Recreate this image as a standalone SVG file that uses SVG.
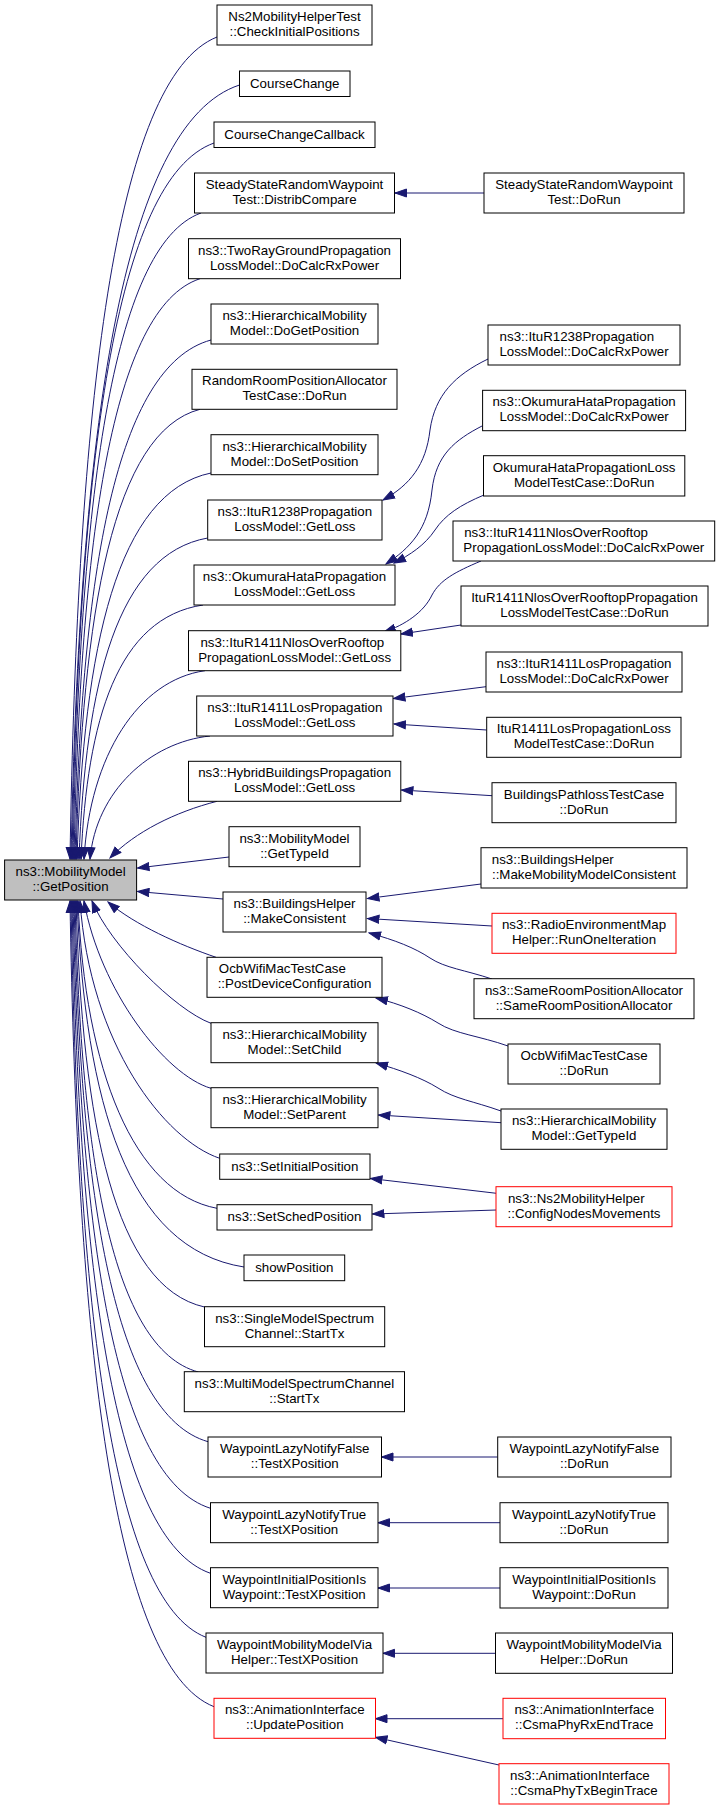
<svg xmlns="http://www.w3.org/2000/svg" width="717" height="1809" viewBox="0 0 717 1809">
<style>
.n rect{fill:#fff;stroke:#000;stroke-width:1}
.r rect{fill:#fff;stroke:#f00;stroke-width:1}
.m rect{fill:#bfbfbf;stroke:#000;stroke-width:1}
text{font-family:"Liberation Sans",Arial,sans-serif;font-size:13.3px;fill:#000;text-anchor:middle}
text.l{text-anchor:start}
#edges path{fill:none;stroke:#191970;stroke-width:1;marker-end:url(#a)}
</style>
<defs>
<marker id="a" markerUnits="userSpaceOnUse" markerWidth="13" markerHeight="10" refX="12" refY="5" orient="auto" viewBox="0 0 13 10">
<path d="M0.5,1 L12,5 L0.5,9 z" fill="#191970" stroke="#191970" stroke-width="1"/>
</marker>
</defs>
<rect width="717" height="1809" fill="#fff"/>
<g id="edges">
<path d="M217,37 C114.1,78.1 77.35,406.9 70,859"/>
<path d="M239.5,85 C121.55,123.7 79.4,433.3 71,859"/>
<path d="M214,143 C114.6,178.8 79.1,465.2 72,859"/>
<path d="M201,213 C111.4,245.3 79.4,503.7 73,859"/>
<path d="M200,278.7 C111.8,307.7 80.3,539.8 74,859"/>
<path d="M211,340 C115.8,366 81.8,573.5 75,859"/>
<path d="M200,409.3 C113.2,431.8 82.2,611.7 76,859"/>
<path d="M211,473 C117.2,492.3 83.7,646.7 77,859"/>
<path d="M207.7,538 C117.6,554 85.4,682.5 79,859"/>
<path d="M203,605 C117.6,617.7 87.1,719.3 81,859"/>
<path d="M205,670.7 C138.5,680.1 90,755.4 84,859"/>
<path d="M210,736 C150,742.2 96,791.4 90,859"/>
<path d="M217,801.3 C175,812 135,832 110,858"/>
<path d="M229,857 L137.5,868"/>
<path d="M223,899 L137.5,891.5"/>
<path d="M216,957.3 C180,945 135,925 108,902"/>
<path d="M211,1023.3 C175,1010 110,945 92,901"/>
<path d="M211,1088.3 C165,1075 100,990 84,901"/>
<path d="M219.7,1158.3 C165,1140 90,1045 80,901"/>
<path d="M217,1208.3 C133.6,1192.9 85,1070 78,901"/>
<path d="M244,1267 C127,1248.7 85.4,1102.3 77,901"/>
<path d="M204.5,1307 C114.5,1286.7 82.4,1124.3 76,901"/>
<path d="M198.3,1372 C112,1348.5 81.2,1160 75,901"/>
<path d="M208,1441.7 C114.2,1414.7 80.7,1198.4 74,901"/>
<path d="M210.5,1508.3 C114.25,1478 79.9,1235 73,901"/>
<path d="M210.5,1573.3 C113.55,1539.7 78.9,1270.8 72,901"/>
<path d="M206,1637.3 C111.5,1600.5 77.75,1306 71,901"/>
<path d="M214,1706.7 C113.2,1666.4 77.2,1344.1 70,901"/>
<path d="M484,193 L395,193"/>
<path d="M488,359 C455,375 435,395 430,430 C426,465 410,485 383,500"/>
<path d="M482,426 C455,440 436,455 432,490 C428,530 410,548 386,564"/>
<path d="M484,495 C460,505 445,515 435,530 C425,545 410,555 394,563"/>
<path d="M481,561 C455,572 440,580 432,595 C424,612 405,625 384,632"/>
<path d="M461,625 L401,634"/>
<path d="M486,686.7 L393.5,698.5"/>
<path d="M486.7,730 L394,724"/>
<path d="M492,795.7 L401.5,790"/>
<path d="M481,884 L367.5,898.5"/>
<path d="M492,926 L367.5,918.5"/>
<path d="M492,979 C465,970 445,968 430,958 C415,948 395,940 369,933"/>
<path d="M508,1046 C480,1036 455,1034 438,1023 C422,1013 400,1004 376,998"/>
<path d="M501,1111 C473,1101 455,1099 438,1088 C422,1078 400,1070 376,1063"/>
<path d="M501,1122.7 L378.5,1115"/>
<path d="M496.4,1193.3 L370.5,1178.5"/>
<path d="M496.4,1210 L372.5,1214"/>
<path d="M497.7,1457 L381.5,1457"/>
<path d="M500,1522.7 L378,1522.7"/>
<path d="M500,1588 L378,1588"/>
<path d="M495.5,1653.3 L383,1653.3"/>
<path d="M503,1718.7 L375.5,1718.7"/>
<path d="M499,1765 L375.5,1737.3"/>
</g>
<g id="main" class="m"><rect x="4.6" y="860" width="132" height="40"/><text x="70.6" y="876">ns3::MobilityModel</text><text x="70.6" y="891">::GetPosition</text></g>
<g id="n1" class="n"><rect x="217" y="5" width="155" height="40"/><text x="294.5" y="21">Ns2MobilityHelperTest</text><text x="294.5" y="36">::CheckInitialPositions</text></g>
<g id="n2" class="n"><rect x="239.5" y="71" width="110.5" height="25.5"/><text x="294.75" y="87.5">CourseChange</text></g>
<g id="n3" class="n"><rect x="214" y="122" width="161" height="25.5"/><text x="294.5" y="138.5">CourseChangeCallback</text></g>
<g id="n4" class="n"><rect x="194.5" y="173" width="200" height="40"/><text x="294.5" y="189">SteadyStateRandomWaypoint</text><text x="294.5" y="204">Test::DistribCompare</text></g>
<g id="n5" class="n"><rect x="188.5" y="238.7" width="212" height="40"/><text x="294.5" y="254.7">ns3::TwoRayGroundPropagation</text><text x="294.5" y="269.7">LossModel::DoCalcRxPower</text></g>
<g id="n6" class="n"><rect x="211" y="304" width="167" height="40"/><text x="294.5" y="320">ns3::HierarchicalMobility</text><text x="294.5" y="335">Model::DoGetPosition</text></g>
<g id="n7" class="n"><rect x="192" y="369.3" width="205" height="40"/><text x="294.5" y="385.3">RandomRoomPositionAllocator</text><text x="294.5" y="400.3">TestCase::DoRun</text></g>
<g id="n8" class="n"><rect x="211" y="434.7" width="167" height="40"/><text x="294.5" y="450.7">ns3::HierarchicalMobility</text><text x="294.5" y="465.7">Model::DoSetPosition</text></g>
<g id="n9" class="n"><rect x="207.7" y="500" width="174.3" height="40"/><text x="294.85" y="516">ns3::ItuR1238Propagation</text><text x="294.85" y="531">LossModel::GetLoss</text></g>
<g id="n10" class="n"><rect x="194" y="565" width="201" height="40"/><text x="294.5" y="581">ns3::OkumuraHataPropagation</text><text x="294.5" y="596">LossModel::GetLoss</text></g>
<g id="n11" class="n"><rect x="188.5" y="630.7" width="212.3" height="40"/><text class="l" x="200.4" y="646.7">ns3::ItuR1411NlosOverRooftop</text><text x="294.65" y="661.7">PropagationLossModel::GetLoss</text></g>
<g id="n12" class="n"><rect x="196.7" y="696" width="196.3" height="40"/><text x="294.85" y="712">ns3::ItuR1411LosPropagation</text><text x="294.85" y="727">LossModel::GetLoss</text></g>
<g id="n13" class="n"><rect x="188.5" y="761.3" width="212.3" height="40"/><text x="294.65" y="777.3">ns3::HybridBuildingsPropagation</text><text x="294.65" y="792.3">LossModel::GetLoss</text></g>
<g id="n14" class="n"><rect x="229" y="826.7" width="131" height="40"/><text x="294.5" y="842.7">ns3::MobilityModel</text><text x="294.5" y="857.7">::GetTypeId</text></g>
<g id="n15" class="n"><rect x="223" y="892" width="143" height="40"/><text x="294.5" y="908">ns3::BuildingsHelper</text><text x="294.5" y="923">::MakeConsistent</text></g>
<g id="n16" class="n"><rect x="207" y="957.3" width="175" height="40"/><text class="l" x="218.8" y="973.3">OcbWifiMacTestCase</text><text x="294.5" y="988.3">::PostDeviceConfiguration</text></g>
<g id="n17" class="n"><rect x="211" y="1022.7" width="167" height="40"/><text x="294.5" y="1038.7">ns3::HierarchicalMobility</text><text x="294.5" y="1053.7">Model::SetChild</text></g>
<g id="n18" class="n"><rect x="211" y="1087.7" width="167" height="40"/><text x="294.5" y="1103.7">ns3::HierarchicalMobility</text><text x="294.5" y="1118.7">Model::SetParent</text></g>
<g id="n19" class="n"><rect x="219.7" y="1154" width="150.3" height="25.3"/><text x="294.85" y="1170.5">ns3::SetInitialPosition</text></g>
<g id="n20" class="n"><rect x="217" y="1204.7" width="155" height="25.3"/><text x="294.5" y="1221.2">ns3::SetSchedPosition</text></g>
<g id="n21" class="n"><rect x="244" y="1255" width="100.7" height="25.7"/><text x="294.35" y="1271.5">showPosition</text></g>
<g id="n22" class="n"><rect x="204.5" y="1306.7" width="180.2" height="40"/><text x="294.6" y="1322.7">ns3::SingleModelSpectrum</text><text x="294.6" y="1337.7">Channel::StartTx</text></g>
<g id="n23" class="n"><rect x="184.3" y="1371.7" width="220.2" height="40"/><text x="294.4" y="1387.7">ns3::MultiModelSpectrumChannel</text><text x="294.4" y="1402.7">::StartTx</text></g>
<g id="n24" class="n"><rect x="208" y="1437" width="173.5" height="40"/><text x="294.75" y="1453">WaypointLazyNotifyFalse</text><text x="294.75" y="1468">::TestXPosition</text></g>
<g id="n25" class="n"><rect x="210.5" y="1502.7" width="167.5" height="40"/><text x="294.25" y="1518.7">WaypointLazyNotifyTrue</text><text x="294.25" y="1533.7">::TestXPosition</text></g>
<g id="n26" class="n"><rect x="210.5" y="1567.7" width="167.5" height="40"/><text x="294.25" y="1583.7">WaypointInitialPositionIs</text><text x="294.25" y="1598.7">Waypoint::TestXPosition</text></g>
<g id="n27" class="n"><rect x="206" y="1633" width="177" height="40"/><text x="294.5" y="1649">WaypointMobilityModelVia</text><text x="294.5" y="1664">Helper::TestXPosition</text></g>
<g id="n28" class="r"><rect x="214" y="1698.3" width="161.5" height="40"/><text x="294.75" y="1714.3">ns3::AnimationInterface</text><text x="294.75" y="1729.3">::UpdatePosition</text></g>
<g id="c1" class="n"><rect x="484" y="173" width="200" height="40"/><text x="584" y="189">SteadyStateRandomWaypoint</text><text x="584" y="204">Test::DoRun</text></g>
<g id="c2" class="n"><rect x="488" y="325" width="192" height="40"/><text class="l" x="499.6" y="341">ns3::ItuR1238Propagation</text><text x="584" y="356">LossModel::DoCalcRxPower</text></g>
<g id="c3" class="n"><rect x="482.6" y="390.3" width="203" height="40.4"/><text x="584.1" y="406.3">ns3::OkumuraHataPropagation</text><text x="584.1" y="421.3">LossModel::DoCalcRxPower</text></g>
<g id="c4" class="n"><rect x="483.5" y="455.7" width="201.3" height="40.3"/><text x="584.15" y="471.7">OkumuraHataPropagationLoss</text><text x="584.15" y="486.7">ModelTestCase::DoRun</text></g>
<g id="c5" class="n"><rect x="453" y="521" width="261.7" height="40"/><text class="l" x="464.2" y="537">ns3::ItuR1411NlosOverRooftop</text><text x="583.85" y="552">PropagationLossModel::DoCalcRxPower</text></g>
<g id="c6" class="n"><rect x="461" y="586" width="247" height="40"/><text x="584.5" y="602">ItuR1411NlosOverRooftopPropagation</text><text x="584.5" y="617">LossModelTestCase::DoRun</text></g>
<g id="c7" class="n"><rect x="486" y="652" width="196" height="40"/><text x="584" y="668">ns3::ItuR1411LosPropagation</text><text x="584" y="683">LossModel::DoCalcRxPower</text></g>
<g id="c8" class="n"><rect x="486.7" y="717.3" width="194.3" height="40"/><text x="583.85" y="733.3">ItuR1411LosPropagationLoss</text><text x="583.85" y="748.3">ModelTestCase::DoRun</text></g>
<g id="c9" class="n"><rect x="492" y="782.7" width="184" height="40"/><text x="584" y="798.7">BuildingsPathlossTestCase</text><text x="584" y="813.7">::DoRun</text></g>
<g id="c10" class="n"><rect x="481" y="847.7" width="206" height="40.3"/><text class="l" x="491.8" y="863.7">ns3::BuildingsHelper</text><text x="584" y="878.7">::MakeMobilityModelConsistent</text></g>
<g id="c11" class="r"><rect x="492" y="913.3" width="184" height="40"/><text x="584" y="929.3">ns3::RadioEnvironmentMap</text><text x="584" y="944.3">Helper::RunOneIteration</text></g>
<g id="c12" class="n"><rect x="474" y="978.7" width="220" height="40"/><text x="584" y="994.7">ns3::SameRoomPositionAllocator</text><text x="584" y="1009.7">::SameRoomPositionAllocator</text></g>
<g id="c13" class="n"><rect x="508" y="1044" width="152" height="40"/><text x="584" y="1060">OcbWifiMacTestCase</text><text x="584" y="1075">::DoRun</text></g>
<g id="c14" class="n"><rect x="501" y="1109" width="166" height="40.3"/><text x="584" y="1125">ns3::HierarchicalMobility</text><text x="584" y="1140">Model::GetTypeId</text></g>
<g id="c15" class="r"><rect x="496" y="1186.7" width="176" height="40"/><text class="l" x="507.9" y="1202.7">ns3::Ns2MobilityHelper</text><text x="584" y="1217.7">::ConfigNodesMovements</text></g>
<g id="c16" class="n"><rect x="497.7" y="1437" width="173.3" height="40"/><text x="584.35" y="1453">WaypointLazyNotifyFalse</text><text x="584.35" y="1468">::DoRun</text></g>
<g id="c17" class="n"><rect x="500" y="1502.7" width="168" height="40"/><text x="584" y="1518.7">WaypointLazyNotifyTrue</text><text x="584" y="1533.7">::DoRun</text></g>
<g id="c18" class="n"><rect x="500" y="1567.7" width="168" height="40.3"/><text x="584" y="1583.7">WaypointInitialPositionIs</text><text x="584" y="1598.7">Waypoint::DoRun</text></g>
<g id="c19" class="n"><rect x="495.5" y="1633" width="177" height="40.3"/><text x="584" y="1649">WaypointMobilityModelVia</text><text x="584" y="1664">Helper::DoRun</text></g>
<g id="c20" class="r"><rect x="503" y="1698.3" width="162.5" height="40.4"/><text x="584.25" y="1714.3">ns3::AnimationInterface</text><text x="584.25" y="1729.3">::CsmaPhyRxEndTrace</text></g>
<g id="c21" class="r"><rect x="499" y="1763.7" width="170" height="40.3"/><text class="l" x="510" y="1779.7">ns3::AnimationInterface</text><text x="584" y="1794.7">::CsmaPhyTxBeginTrace</text></g>
</svg>
